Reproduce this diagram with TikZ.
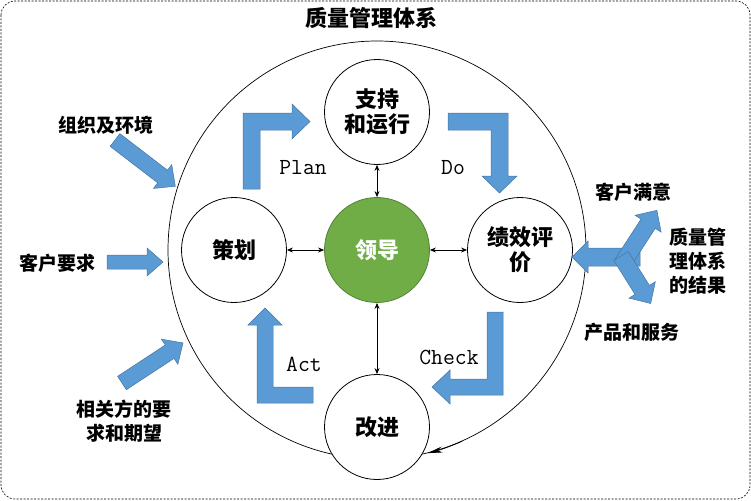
\documentclass[tikz,border=0pt]{standalone}
\usepackage{fontspec}
\setmainfont{Noto Sans CJK SC}
\usetikzlibrary{arrows.meta}
\definecolor{qblue}{HTML}{5B9BD5}
\definecolor{qgreen}{HTML}{70AD47}
\tikzset{
  >={Stealth[length=6pt,width=5pt]},
  proc/.style ={draw, circle, minimum size=105pt, inner sep=0pt, fill=white, line width=0.8pt,
                font=\fontsize{22}{25}\selectfont\bfseries, align=center},
  core/.style ={proc, fill=qgreen, draw=qgreen!75!black, text=white},
  lbl/.style  ={font=\fontsize{19}{24}\selectfont\bfseries, align=center},
  pdca/.style ={font=\fontsize{23}{24}\selectfont\ttfamily},
  blk/.style  ={fill=qblue, draw=qblue!75!black, line width=0.5pt},
  pics/barrow/.style args={#1/#2}{code={
    \path[blk] (0,-#2) -- (#1-16,-#2) -- (#1-16,-#2-7) -- (#1,0)
      -- (#1-16,#2+7) -- (#1-16,#2) -- (0,#2) -- cycle;}}
}

\begin{document}
\begin{tikzpicture}[x=1pt, y=-1pt]
\useasboundingbox (0,0) rectangle (751,500);
\draw[dash pattern=on 2pt off 1.5pt, rounded corners=14pt, line width=0.6pt] (1,1) rectangle (750,499);
\node[lbl, font=\fontsize{22}{24}\selectfont\bfseries] (title) at (371,18) {质量管理体系};

% outer system boundary
\node[draw, circle, minimum size=418pt, inner sep=0pt, line width=0.7pt] (qms) at (377,250) {};
\draw[-{Stealth[length=15pt,width=6pt]}, line width=0.7pt]
  (qms.-66) arc[start angle=66, end angle=76, radius=209];

% PDCA block arrows
\path[blk] (243,189) -- (243,113) -- (292,113) -- (292,104) -- (310,121.5)
  -- (292,139) -- (292,130) -- (260,130) -- (260,189) -- cycle;
\path[blk] (448,113) -- (508,113) -- (508,176) -- (517,176) -- (499.5,193)
  -- (482,176) -- (491,176) -- (491,130) -- (448,130) -- cycle;
\path[blk] (487,312) -- (503,312) -- (503,395) -- (450,395) -- (450,404)
  -- (432,387) -- (450,370) -- (450,379) -- (487,379) -- cycle;
\path[blk] (313,403) -- (257,403) -- (257,325) -- (248,325) -- (265,308)
  -- (282,325) -- (273,325) -- (273,387) -- (313,387) -- cycle;

\node[pdca] (tplan)  at (303,168) {Plan};
\node[pdca] (tdo)    at (453,168) {Do};
\node[pdca] (tcheck) at (449,357) {Check};
\node[pdca] (tact)   at (304,364) {Act};

% processes
\node[proc] (supp) at (377,112) {支持\\和运行};
\node[proc] (plan) at (234,250) {策划};
\node[core] (lead) at (377,250) {领导};
\node[proc] (eval) at (520,250) {绩效评\\价};
\node[proc] (impr) at (377,427) {改进};

\draw[<->, line width=0.8pt] (supp) -- (lead);
\draw[<->, line width=0.8pt] (plan) -- (lead);
\draw[<->, line width=0.8pt] (lead) -- (eval);
\draw[<->, line width=0.8pt] (lead) -- (impr);

% inputs
\node[lbl] (org)  at (106,125) {组织及环境};
\node[lbl] (cust) at (57,263)  {客户要求};
\node[lbl] (need) at (124,421) {相关方的要\\求和期望};
\pic[rotate=-37.5] at (115,140) {barrow=76/8};
\pic at (107,262) {barrow=56/7};
\pic[rotate=33.3] at (122,383) {barrow=73/8};

% results
\pic[rotate=180] at (640,257) {barrow=68/9};
\pic[rotate=57] at (622,264) {barrow=64/8.5};
\pic[rotate=-58] at (621,256) {barrow=56/8.5};
\node[lbl] (sat)  at (633,192) {客户满意};
\node[lbl, align=left] (res) at (698,261) {质量管\\理体系\\的结果};
\node[lbl] (prod) at (632,332) {产品和服务};
\end{tikzpicture}
\end{document}
